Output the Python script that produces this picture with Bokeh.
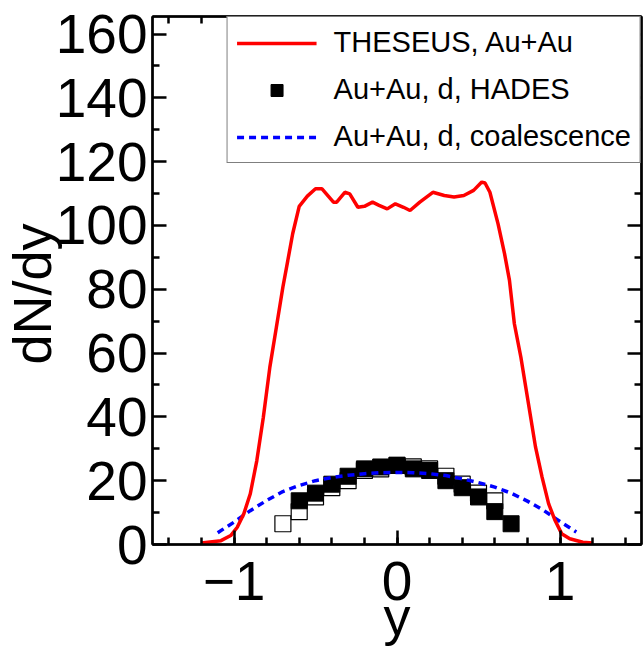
from bokeh.plotting import figure
from bokeh.models import (Range1d, LinearAxis, FixedTicker, Legend, LegendItem,
                          CustomJSTickFormatter, Title)
from bokeh.embed import file_html
from bokeh.resources import INLINE

# ---- data ----
theseus_x = [-1.20, -1.08, -1.02, -0.98, -0.94, -0.90, -0.86, -0.82, -0.78, -0.74,
             -0.70, -0.67, -0.64, -0.60, -0.55, -0.50, -0.46, -0.39, -0.37, -0.32,
             -0.29, -0.24, -0.20, -0.15, -0.11, -0.06, -0.01, 0.04, 0.08, 0.14,
             0.22, 0.29, 0.35, 0.41, 0.47, 0.52, 0.54, 0.57, 0.62, 0.66,
             0.69, 0.72, 0.76, 0.79, 0.82, 0.85, 0.89, 0.93, 0.97, 1.01,
             1.06, 1.14, 1.20]
theseus_y = [0.5, 1.2, 2.8, 5.4, 9.6, 15.9, 26.3, 39.9, 55.6, 68.1,
             80.7, 89.0, 97.4, 106.0, 109.2, 111.5, 111.5, 107.3, 107.3, 110.4,
             109.9, 105.7, 106.0, 107.3, 106.3, 105.2, 106.8, 105.7, 104.7, 107.3,
             110.4, 109.4, 108.9, 109.4, 111.0, 113.6, 113.3, 110.4, 100.5, 91.1,
             82.8, 69.2, 58.7, 49.3, 39.9, 30.5, 21.1, 12.8, 7.5, 3.4,
             1.8, 0.7, 0.5]

coal_x = [-1.1, -1.0, -0.9, -0.8, -0.7, -0.6, -0.5, -0.4, -0.3, -0.2, -0.1, 0.0,
          0.1, 0.2, 0.3, 0.4, 0.5, 0.6, 0.7, 0.8, 0.9, 1.0, 1.1]
coal_y = [3.7, 7.0, 10.6, 13.8, 16.6, 18.5, 20.0, 21.0, 21.7, 22.2, 22.5, 22.6,
          22.5, 22.2, 21.6, 20.6, 19.4, 18.0, 16.1, 13.6, 10.7, 7.2, 3.9]

hades_x = [-0.6, -0.5, -0.4, -0.3, -0.2, -0.1, 0.0, 0.1, 0.2, 0.3, 0.4, 0.5, 0.6, 0.7]
hades_y = [13.7, 16.1, 18.9, 21.4, 23.7, 24.3, 24.8, 23.7, 23.2, 20.0, 17.8, 14.9, 10.3, 6.5]

hades_refl_x = [-0.7, -0.6, -0.5, -0.4, -0.3, -0.2, -0.1, 0.0, 0.1, 0.2, 0.3, 0.4, 0.5, 0.6]
hades_refl_y = [6.5, 10.3, 14.9, 17.8, 20.0, 23.2, 23.7, 24.8, 24.3, 23.7, 21.4, 18.9, 16.1, 13.7]

x_major = [-1, 0, 1]
x_minor = [-1.4, -1.2, -1.0, -0.8, -0.6, -0.4, -0.2, 0.0, 0.2, 0.4, 0.6, 0.8, 1.0, 1.2, 1.4]
y_major = [0, 20, 40, 60, 80, 100, 120, 140, 160]
y_minor = [10, 30, 50, 70, 90, 110, 130, 150]

FONT = "Liberation Sans"

p = figure(width=643, height=646, x_range=Range1d(-1.5, 1.5), y_range=Range1d(0, 165.5),
           output_backend="svg", toolbar_location=None,
           min_border_left=152, min_border_right=2, min_border_top=16, min_border_bottom=102)
p.background_fill_color = "white"
p.border_fill_color = "white"
p.grid.visible = False
p.outline_line_color = "black"
p.outline_line_width = 2

xt = FixedTicker(ticks=x_major, minor_ticks=x_minor)
yt = FixedTicker(ticks=y_major, minor_ticks=y_minor)


def style_axis(ax, ticker):
    ax.ticker = ticker
    ax.axis_line_width = 2.5
    ax.major_tick_line_width = 2.5
    ax.minor_tick_line_width = 2.5
    ax.major_tick_in = 14
    ax.major_tick_out = 0
    ax.minor_tick_in = 7
    ax.minor_tick_out = 0
    ax.major_label_text_font = FONT
    ax.major_label_text_color = "black"


style_axis(p.xaxis[0], xt)
style_axis(p.yaxis[0], yt)
p.xaxis[0].major_label_text_font_size = "55px"
p.yaxis[0].major_label_text_font_size = "55px"
p.xaxis[0].major_label_standoff = 17
p.yaxis[0].major_label_standoff = 5
p.xaxis[0].major_label_overrides = {-1: "\u22121", 0: "0", 1: "1"}

# axis titles as side-panel titles (allowed to overlap the tick-label band as in the reference)
ytitle = Title(text="dN/dy", align="left", vertical_align="bottom", offset=180,
               standoff=-18, text_font=FONT, text_font_size="54px",
               text_font_style="normal", text_color="black")
xtitle = Title(text="y", align="center", vertical_align="top",
               standoff=-34, text_font=FONT, text_font_size="54px",
               text_font_style="normal", text_color="black")
p.add_layout(ytitle, "left")
p.add_layout(xtitle, "below")

blank = CustomJSTickFormatter(code="return ''")
top_ax = LinearAxis(formatter=blank)
right_ax = LinearAxis(formatter=blank)
style_axis(top_ax, FixedTicker(ticks=x_major, minor_ticks=x_minor))
style_axis(right_ax, FixedTicker(ticks=y_major, minor_ticks=y_minor))
for ax in (top_ax, right_ax):
    ax.major_label_text_font_size = "1px"
    ax.major_label_standoff = 0
p.add_layout(top_ax, "above")
p.add_layout(right_ax, "right")

r_open = p.scatter(hades_refl_x, hades_refl_y, marker="square", size=16,
                   fill_color="white", line_color="black", line_width=1.2)
r_fill = p.scatter(hades_x, hades_y, marker="square", size=16,
                   fill_color="black", line_color="black", line_width=1)
r_coal = p.line(coal_x, coal_y, line_color="blue", line_width=3.5, line_dash="7 5")
r_th = p.line(theseus_x, theseus_y, line_color="red", line_width=3.5)

legend = Legend(items=[
    LegendItem(label="THESEUS, Au+Au", renderers=[r_th]),
    LegendItem(label="Au+Au, d, HADES", renderers=[r_fill]),
    LegendItem(label="Au+Au, d, coalescence", renderers=[r_coal]),
], location="top_right")
legend.margin = 0
legend.padding = 9
legend.spacing = 14
legend.label_height = 30
legend.glyph_height = 30
legend.glyph_width = 80
legend.label_standoff = 17
legend.label_text_font = FONT
legend.label_text_font_size = "29px"
legend.label_text_color = "black"
legend.border_line_color = "black"
legend.border_line_width = 1
legend.background_fill_color = "white"
legend.background_fill_alpha = 1
p.add_layout(legend)

open("out.html", "w").write(file_html(p, INLINE))
